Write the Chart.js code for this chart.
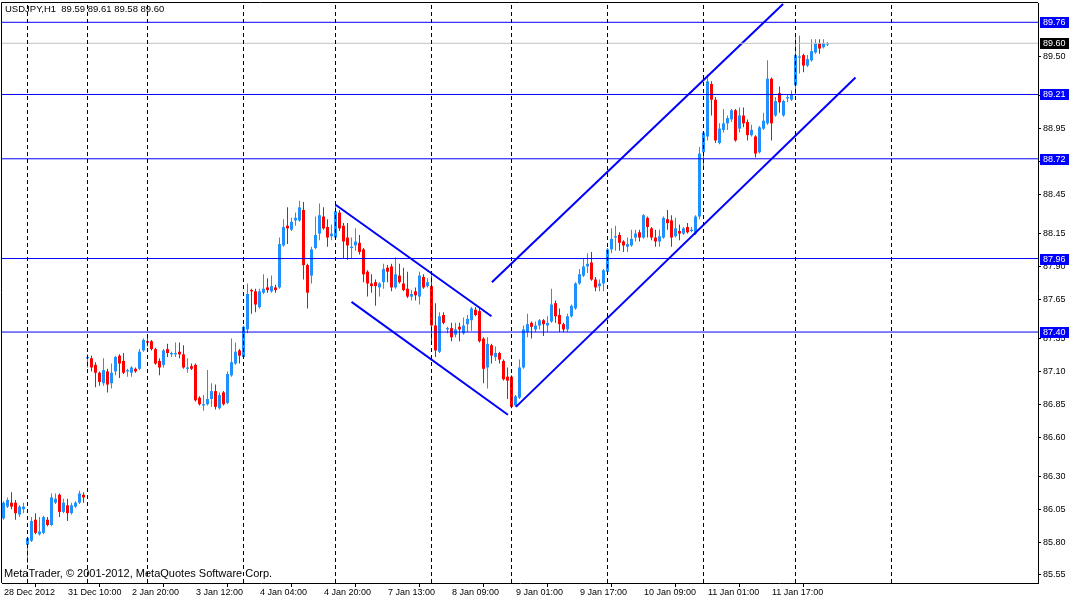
<!DOCTYPE html>
<html>
<head>
<meta charset="utf-8">
<title>USDJPY,H1</title>
<script src="https://cdn.jsdelivr.net/npm/chart.js@4.4.1/dist/chart.umd.min.js"></script>
<style>
  html, body { margin: 0; padding: 0; background: #ffffff; }
  #wrap { width: 1075px; height: 599px; }
</style>
</head>
<body>
<div id="wrap"><canvas id="chart" width="1075" height="599"></canvas></div>
<script>
// USDJPY H1 bars (bar 0 = 28 Dec 18:00)
const opens = [
  85.98, 86.07, 86.10, 86.10, 86.01, 86.05, 85.78, 85.81, 85.97, 85.86,
  85.87, 85.97, 85.93, 86.10, 86.16, 86.03, 86.08, 86.02, 86.07, 86.10,
  86.16, 87.20, 87.20, 87.15, 87.09, 87.01, 87.10, 87.01, 87.10, 87.22,
  87.18, 87.10, 87.09, 87.12, 87.12, 87.26, 87.33, 87.33, 87.27, 87.18,
  87.15, 87.27, 87.23, 87.23, 87.25, 87.23, 87.12, 87.14, 87.15, 86.90,
  86.84, 86.85, 86.89, 86.95, 86.82, 86.94, 86.86, 87.07, 87.16, 87.26,
  87.21, 87.42, 87.72, 87.71, 87.59, 87.70, 87.74, 87.71, 87.74, 87.74,
  88.06, 88.21, 88.18, 88.25, 88.25, 88.33, 87.91, 87.83, 88.04, 88.15,
  88.28, 88.20, 88.13, 88.12, 88.31, 88.21, 88.12, 88.04, 88.06, 88.08,
  88.03, 87.86, 87.77, 87.78, 87.74, 87.78, 87.89, 87.90, 87.74, 87.83,
  87.77, 87.73, 87.67, 87.71, 87.67, 87.82, 87.75, 87.75, 87.45, 87.25,
  87.53, 87.42, 87.43, 87.38, 87.44, 87.39, 87.46, 87.49, 87.57, 87.56,
  87.35, 87.13, 87.30, 87.21, 87.24, 87.18, 87.06, 87.06, 86.84, 86.90,
  87.13, 87.40, 87.47, 87.42, 87.45, 87.49, 87.45, 87.48, 87.62, 87.53,
  87.46, 87.42, 87.52, 87.58, 87.77, 87.83, 87.90, 87.93, 87.80, 87.75,
  87.77, 87.86, 88.03, 88.12, 88.14, 88.09, 88.05, 88.06, 88.12, 88.16,
  88.12, 88.27, 88.19, 88.12, 88.09, 88.12, 88.26, 88.25, 88.13, 88.17,
  88.15, 88.20, 88.17, 88.15, 88.28, 88.77, 88.89, 89.29, 89.17, 88.84,
  88.94, 88.99, 89.02, 89.09, 88.95, 89.05, 89.00, 88.90, 88.89, 88.77,
  88.95, 88.99, 89.33, 89.05, 89.22, 89.05, 89.18, 89.17, 89.28, 89.49,
  89.51, 89.43, 89.47, 89.53, 89.60, 89.57, 89.59
];
const highs = [
  86.11, 86.14, 86.18, 86.12, 86.08, 86.10, 85.84, 85.99, 86.02, 85.99,
  86.00, 85.99, 86.17, 86.17, 86.17, 86.13, 86.13, 86.10, 86.11, 86.19,
  86.18, 87.23, 87.22, 87.17, 87.10, 87.20, 87.12, 87.16, 87.22, 87.23,
  87.24, 87.12, 87.14, 87.13, 87.27, 87.35, 87.36, 87.34, 87.28, 87.20,
  87.27, 87.31, 87.25, 87.32, 87.32, 87.30, 87.20, 87.16, 87.16, 86.91,
  86.92, 87.11, 87.01, 87.00, 86.94, 86.95, 87.10, 87.35, 87.32, 87.27,
  87.45, 87.77, 87.73, 87.73, 87.73, 87.84, 87.81, 87.83, 87.76, 88.12,
  88.26, 88.35, 88.27, 88.31, 88.40, 88.39, 87.92, 88.05, 88.28, 88.38,
  88.35, 88.26, 88.22, 88.38, 88.33, 88.23, 88.23, 88.12, 88.19, 88.14,
  88.04, 87.87, 87.84, 87.80, 87.78, 87.92, 87.91, 87.92, 87.97, 87.92,
  87.89, 87.86, 87.72, 87.74, 87.86, 87.84, 87.81, 87.83, 87.62, 87.55,
  87.55, 87.44, 87.47, 87.47, 87.47, 87.51, 87.53, 87.59, 87.59, 87.59,
  87.36, 87.36, 87.31, 87.29, 87.25, 87.19, 87.13, 87.07, 86.92, 87.19,
  87.45, 87.54, 87.48, 87.48, 87.50, 87.50, 87.52, 87.73, 87.64, 87.58,
  87.47, 87.54, 87.61, 87.78, 87.88, 87.96, 88.00, 88.01, 87.82, 87.80,
  87.88, 88.04, 88.19, 88.21, 88.16, 88.10, 88.12, 88.18, 88.18, 88.18,
  88.30, 88.28, 88.20, 88.18, 88.18, 88.28, 88.33, 88.29, 88.27, 88.22,
  88.20, 88.23, 88.20, 88.29, 88.81, 88.93, 89.36, 89.31, 89.19, 88.99,
  89.10, 89.05, 89.10, 89.10, 89.11, 89.11, 89.02, 88.98, 88.90, 88.97,
  89.07, 89.47, 89.34, 89.19, 89.27, 89.17, 89.21, 89.24, 89.67, 89.66,
  89.52, 89.51, 89.63, 89.63, 89.63, 89.63, 89.61
];
const lows = [
  85.97, 86.06, 86.05, 85.97, 85.99, 86.02, 85.64, 85.80, 85.86, 85.85,
  85.86, 85.92, 85.92, 86.09, 85.99, 86.02, 85.96, 86.01, 86.06, 86.09,
  86.10, 87.13, 87.10, 86.98, 86.99, 86.99, 86.94, 86.97, 87.07, 87.05,
  87.08, 87.06, 87.06, 87.09, 87.11, 87.25, 87.29, 87.26, 87.15, 87.07,
  87.13, 87.21, 87.21, 87.21, 87.20, 87.12, 87.09, 87.11, 86.87, 86.84,
  86.80, 86.84, 86.83, 86.81, 86.81, 86.84, 86.85, 87.06, 87.15, 87.16,
  87.20, 87.39, 87.54, 87.55, 87.58, 87.69, 87.70, 87.70, 87.70, 87.73,
  88.05, 88.07, 88.17, 88.21, 88.24, 87.80, 87.58, 87.77, 88.03, 88.10,
  88.18, 88.05, 88.10, 88.11, 88.17, 87.96, 87.95, 87.96, 88.02, 87.99,
  87.78, 87.67, 87.70, 87.60, 87.67, 87.73, 87.78, 87.71, 87.73, 87.77,
  87.71, 87.66, 87.64, 87.64, 87.61, 87.73, 87.74, 87.32, 87.21, 87.24,
  87.46, 87.39, 87.33, 87.36, 87.33, 87.38, 87.40, 87.41, 87.52, 87.32,
  87.01, 86.97, 87.16, 87.18, 87.16, 87.03, 86.89, 86.82, 86.83, 86.89,
  87.12, 87.36, 87.35, 87.40, 87.42, 87.37, 87.40, 87.47, 87.47, 87.40,
  87.40, 87.40, 87.51, 87.57, 87.76, 87.82, 87.85, 87.79, 87.71, 87.71,
  87.71, 87.85, 88.00, 88.02, 88.02, 88.01, 88.01, 88.05, 88.09, 88.09,
  88.11, 88.12, 88.10, 88.05, 88.05, 88.11, 88.18, 88.05, 88.12, 88.10,
  88.14, 88.15, 88.16, 88.14, 88.26, 88.66, 88.86, 89.05, 88.84, 88.83,
  88.92, 88.94, 89.00, 88.85, 88.92, 88.96, 88.86, 88.89, 88.73, 88.76,
  88.94, 88.98, 88.86, 89.04, 89.07, 89.04, 89.15, 89.16, 89.21, 89.37,
  89.38, 89.42, 89.46, 89.52, 89.52, 89.56, 89.58
];
const closes = [
  86.10, 86.12, 86.07, 86.02, 86.07, 86.07, 85.83, 85.96, 85.87, 85.88,
  85.99, 85.93, 86.14, 86.13, 86.03, 86.10, 86.02, 86.08, 86.10, 86.17,
  86.14, 87.21, 87.13, 87.09, 87.02, 87.11, 87.00, 87.09, 87.21, 87.16,
  87.09, 87.11, 87.13, 87.10, 87.25, 87.34, 87.32, 87.27, 87.16, 87.13,
  87.26, 87.24, 87.24, 87.24, 87.23, 87.13, 87.13, 87.12, 86.88, 86.85,
  86.85, 86.89, 86.95, 86.83, 86.92, 86.85, 87.08, 87.17, 87.25, 87.22,
  87.44, 87.69, 87.71, 87.61, 87.71, 87.73, 87.72, 87.75, 87.72, 88.07,
  88.20, 88.19, 88.24, 88.27, 88.35, 87.91, 87.70, 88.03, 88.14, 88.29,
  88.19, 88.12, 88.15, 88.32, 88.19, 88.09, 88.06, 88.05, 88.09, 88.01,
  87.84, 87.77, 87.75, 87.75, 87.77, 87.88, 87.86, 87.74, 87.84, 87.78,
  87.72, 87.67, 87.69, 87.68, 87.83, 87.74, 87.78, 87.45, 87.26, 87.52,
  87.47, 87.43, 87.36, 87.42, 87.42, 87.45, 87.50, 87.58, 87.53, 87.33,
  87.12, 87.31, 87.22, 87.24, 87.19, 87.04, 87.03, 86.83, 86.91, 87.13,
  87.42, 87.46, 87.44, 87.45, 87.49, 87.46, 87.47, 87.61, 87.52, 87.46,
  87.42, 87.52, 87.60, 87.77, 87.84, 87.90, 87.92, 87.80, 87.74, 87.77,
  87.87, 88.03, 88.11, 88.13, 88.08, 88.06, 88.07, 88.11, 88.15, 88.12,
  88.29, 88.20, 88.12, 88.09, 88.13, 88.27, 88.23, 88.12, 88.19, 88.15,
  88.19, 88.16, 88.18, 88.28, 88.76, 88.92, 89.31, 89.17, 88.86, 88.95,
  88.99, 89.03, 89.09, 88.86, 89.05, 88.99, 88.90, 88.94, 88.76, 88.96,
  89.01, 89.33, 88.99, 89.16, 89.15, 89.16, 89.19, 89.21, 89.51, 89.50,
  89.43, 89.48, 89.54, 89.60, 89.56, 89.60, 89.60
];

// time axis: label every 16 bars, day separators at these bar indices
const xLabelBars = [0, 16, 32, 48, 64, 80, 96, 112, 128, 144, 160, 176, 192];
const xLabels = ['28 Dec 2012', '31 Dec 10:00', '2 Jan 20:00', '3 Jan 12:00', '4 Jan 04:00',
  '4 Jan 20:00', '7 Jan 13:00', '8 Jan 09:00', '9 Jan 01:00', '9 Jan 17:00',
  '10 Jan 09:00', '11 Jan 01:00', '11 Jan 17:00'];
const separators = [6, 21, 36, 60, 83, 107, 127, 151, 175, 198, 222];

// price axis
const yTicks = [89.50, 89.20, 88.95, 88.70, 88.45, 88.15, 87.90, 87.65, 87.35,
  87.10, 86.85, 86.60, 86.30, 86.05, 85.80, 85.55];
const levels = [89.76, 89.21, 88.72, 87.96, 87.40];
const bid = 89.60;

// channel lines as [bar, price] end points
const downUpper = [[83.0, 88.37], [122.0, 87.52]];
const downLower = [[87.0, 87.63], [126.1, 86.77]];
const upUpper = [[122.1, 87.78], [194.9, 89.90]];
const upLower = [[128.1, 86.83], [213.0, 89.34]];

const xMin = -0.375, xMax = 258.625;
const yMin = 85.488, yMax = 89.907;

const FONT = "'Liberation Sans', Arial, sans-serif";
const UP = '#1E90FF', DOWN = '#FF0000', LINE_BLUE = '#0000FF';

const candleColors = opens.map((o, i) => closes[i] >= o ? UP : DOWN);

function seg(points) {
    return points.map(p => ({ x: p[0], y: p[1] }));
}

function lineSet(data, color, width, dash) {
    return {
        type: 'line',
        data: data,
        borderColor: color,
        borderWidth: width,
        borderDash: dash || [],
        pointRadius: 0,
        fill: false,
        tension: 0,
        order: 0
    };
}

const datasets = [
    {
        type: 'bar',
        label: 'wicks',
        data: opens.map((o, i) => ({ x: i, y: [lows[i], highs[i]] })),
        backgroundColor: candleColors,
        barThickness: 1,
        grouped: false,
        minBarLength: 1,
        inflateAmount: 0,
        order: 3
    },
    {
        type: 'bar',
        label: 'bodies',
        data: opens.map((o, i) => ({ x: i, y: [o, closes[i]] })),
        backgroundColor: candleColors,
        barThickness: 3,
        grouped: false,
        minBarLength: 1,
        inflateAmount: 0,
        order: 2
    }
];

separators.forEach(s => {
    datasets.push(lineSet([{ x: s, y: yMin }, { x: s, y: yMax }], '#000000', 1, [4, 3]));
});
datasets.push(lineSet([{ x: xMin, y: bid }, { x: xMax, y: bid }], '#C0C0C0', 1));
levels.forEach(l => {
    datasets.push(lineSet([{ x: xMin, y: l }, { x: xMax, y: l }], LINE_BLUE, 1));
});
[downUpper, downLower, upUpper, upLower].forEach(t => {
    datasets.push(lineSet(seg(t), LINE_BLUE, 2));
});

// MT4 style extras: frame, price boxes on the axis, header and copyright
const mtPlugin = {
    id: 'mtPlugin',
    beforeDraw(chart) {
        const c = chart.ctx;
        c.save();
        c.fillStyle = '#ffffff';
        c.fillRect(0, 0, chart.width, chart.height);
        c.restore();
    },
    afterDraw(chart) {
        const c = chart.ctx;
        const a = chart.chartArea;
        const ys = chart.scales.y;
        c.save();
        c.strokeStyle = '#000000';
        c.lineWidth = 1;
        c.beginPath();
        c.moveTo(1.5, a.bottom);
        c.lineTo(1.5, 2.5);
        c.lineTo(a.right, 2.5);
        c.stroke();

        c.font = '9px ' + FONT;
        c.textBaseline = 'middle';
        c.textAlign = 'left';
        const box = (v, bg) => {
            const y = Math.round(ys.getPixelForValue(v));
            c.fillStyle = bg;
            c.fillRect(a.right + 2, y - 5, 29, 11);
            c.fillStyle = '#ffffff';
            c.fillText(v.toFixed(2), a.right + 5, y + 0.5);
        };
        levels.forEach(l => box(l, LINE_BLUE));
        box(bid, '#000000');

        c.fillStyle = '#000000';
        c.font = '9.5px ' + FONT;
        c.fillText('USDJPY,H1  ' + [opens[opens.length - 1], highs[highs.length - 1],
            lows[lows.length - 1], closes[closes.length - 1]].map(v => v.toFixed(2)).join(' '), 5, 9.5);
        c.font = '11px ' + FONT;
        c.fillText('MetaTrader, \u00A9 2001-2012, MetaQuotes Software Corp.', 4, 574);
        c.restore();
    }
};

new Chart(document.getElementById('chart'), {
    type: 'bar',
    data: { datasets: datasets },
    options: {
        responsive: false,
        devicePixelRatio: 1,
        animation: false,
        events: [],
        layout: { padding: { left: 2, top: 3, right: 0, bottom: 0 } },
        plugins: {
            legend: { display: false },
            tooltip: { enabled: false }
        },
        scales: {
            x: {
                type: 'linear',
                position: 'bottom',
                min: xMin,
                max: xMax,
                offset: false,
                afterFit: s => { s.height = 16; s.paddingLeft = 0; s.paddingRight = 0; },
                afterBuildTicks: s => { s.ticks = xLabelBars.map(v => ({ value: v })); },
                ticks: {
                    autoSkip: false,
                    maxRotation: 0,
                    align: 'start',
                    labelOffset: 0.5,
                    padding: 0,
                    color: '#000000',
                    font: { family: FONT, size: 9 },
                    callback: v => xLabels[xLabelBars.indexOf(v)]
                },
                grid: { drawOnChartArea: false, tickLength: 4, tickColor: '#000000' },
                border: { color: '#000000', width: 1 }
            },
            y: {
                type: 'linear',
                position: 'right',
                min: yMin,
                max: yMax,
                afterFit: s => { s.width = 37; s.paddingTop = 0; s.paddingBottom = 0; },
                afterBuildTicks: s => { s.ticks = yTicks.map(v => ({ value: v })); },
                ticks: {
                    padding: 2,
                    color: '#000000',
                    font: { family: FONT, size: 9 },
                    callback: v => v.toFixed(2)
                },
                grid: { drawOnChartArea: false, tickLength: 3, tickColor: '#000000' },
                border: { color: '#000000', width: 1 }
            }
        }
    },
    plugins: [mtPlugin]
});
</script>
</body>
</html>
